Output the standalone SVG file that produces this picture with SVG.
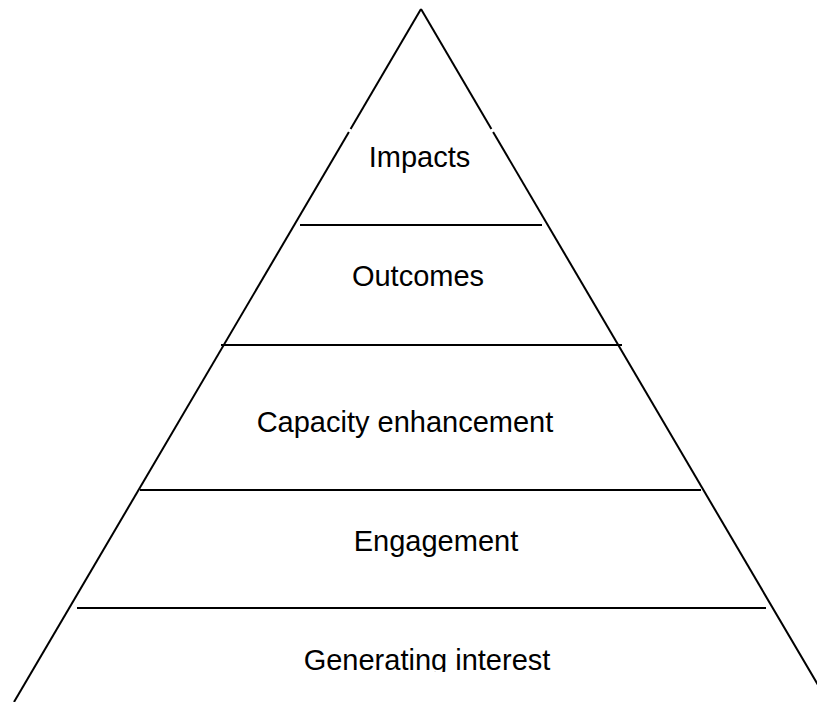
<svg xmlns="http://www.w3.org/2000/svg" width="817" height="702" viewBox="0 0 817 702">
  <style>
    .edge { stroke: #000; stroke-width: 2; fill: none; stroke-linecap: butt; }
    .band { stroke: #000; stroke-width: 2; fill: none; }
    .label { font-family: "Liberation Sans", Arial, sans-serif; font-size: 29px; fill: #000; text-anchor: middle; }
  </style>
  <defs>
    <clipPath id="bottomClip">
      <rect x="0" y="0" width="817" height="672"/>
    </clipPath>
  </defs>
  <rect x="0" y="0" width="817" height="702" fill="#fff"/>

  <!-- pyramid outline -->
  <g id="outline">
    <line class="edge" x1="421" y1="9" x2="350.6" y2="129"/>
    <line class="edge" x1="348.9" y1="132" x2="14" y2="702"/>
    <line class="edge" x1="421" y1="9" x2="491.4" y2="129"/>
    <line class="edge" x1="493.1" y1="132" x2="828" y2="702"/>
  </g>

  <!-- tier dividers -->
  <g id="dividers">
    <line class="band" x1="300" y1="225" x2="542" y2="225"/>
    <line class="band" x1="221" y1="345" x2="622" y2="345"/>
    <line class="band" x1="140" y1="490" x2="701" y2="490"/>
    <line class="band" x1="77" y1="608" x2="766" y2="608"/>
  </g>

  <g id="impacts"><text class="label" x="419.5" y="167">Impacts</text></g>
  <g id="outcomes"><text class="label" x="418" y="286">Outcomes</text></g>
  <g id="capacity"><text class="label" x="405" y="432">Capacity enhancement</text></g>
  <g id="engagement"><text class="label" x="436" y="551">Engagement</text></g>
  <g id="interest" clip-path="url(#bottomClip)"><text class="label" x="427" y="670">Generating interest</text></g>
</svg>
